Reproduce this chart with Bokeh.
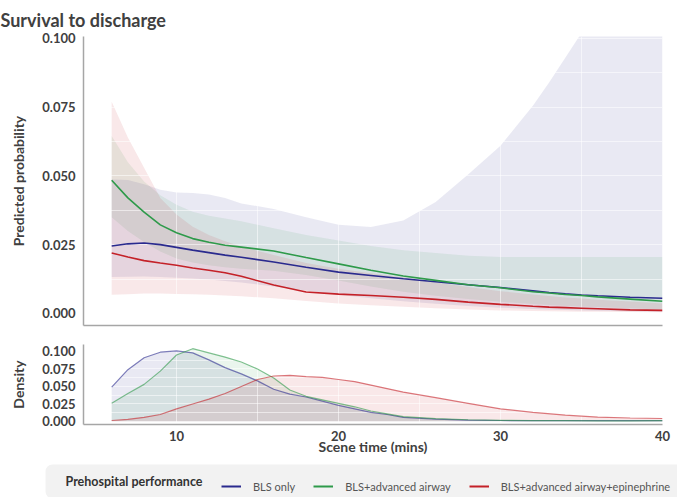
from bokeh.plotting import figure
from bokeh.layouts import column, row
from bokeh.models import (Legend, LegendItem, FixedTicker, Range1d,
                          PrintfTickFormatter, BoxAnnotation, Label)
from bokeh.embed import file_html
from bokeh.resources import INLINE

# ---------------- data ----------------
scene_time = [6, 7, 8, 9, 10, 11, 12, 13, 14, 16, 18, 20, 22, 24, 26, 28,
              30, 32, 33, 34, 35, 36, 38, 40]

bls_pred = [0.0245, 0.0253, 0.0256, 0.0250, 0.0240, 0.0230, 0.0221, 0.0212,
            0.0204, 0.0187, 0.0168, 0.0150, 0.0138, 0.0126, 0.0115, 0.0104,
            0.0094, 0.0082, 0.0076, 0.0071, 0.0067, 0.0064, 0.0059, 0.0055]
bls_lo = [0.0132, 0.0133, 0.0134, 0.0132, 0.0130, 0.0127, 0.0123, 0.0118,
          0.0112, 0.0098, 0.0083, 0.0068, 0.0055, 0.0044, 0.0035, 0.0027,
          0.0021, 0.0016, 0.0014, 0.0012, 0.0011, 0.0010, 0.0008, 0.0006]
bls_hi = [0.0487, 0.0485, 0.0470, 0.0450, 0.0440, 0.0438, 0.0432, 0.0420,
          0.0400, 0.0380, 0.0350, 0.0322, 0.0314, 0.0338, 0.0405, 0.0505,
          0.0610, 0.0755, 0.0840, 0.0930, 0.1020, 0.1100, 0.1300, 0.1500]

air_pred = [0.0484, 0.0420, 0.0368, 0.0322, 0.0293, 0.0272, 0.0259, 0.0248,
            0.0241, 0.0227, 0.0203, 0.0180, 0.0157, 0.0136, 0.0120, 0.0104,
            0.0093, 0.0079, 0.0074, 0.0069, 0.0065, 0.0060, 0.0052, 0.0044]
air_lo = [0.0350, 0.0300, 0.0260, 0.0225, 0.0200, 0.0185, 0.0175, 0.0168,
          0.0162, 0.0155, 0.0140, 0.0120, 0.0098, 0.0079, 0.0064, 0.0052,
          0.0042, 0.0034, 0.0031, 0.0028, 0.0025, 0.0023, 0.0019, 0.0015]
air_hi = [0.0645, 0.0550, 0.0480, 0.0430, 0.0395, 0.0370, 0.0355, 0.0345,
          0.0335, 0.0310, 0.0285, 0.0265, 0.0245, 0.0230, 0.0220, 0.0210,
          0.0205, 0.0205, 0.0205, 0.0205, 0.0205, 0.0205, 0.0205, 0.0205]

epi_pred = [0.0220, 0.0205, 0.0192, 0.0183, 0.0175, 0.0165, 0.0157, 0.0148,
            0.0135, 0.0103, 0.0078, 0.0070, 0.0065, 0.0059, 0.0051, 0.0041,
            0.0033, 0.0026, 0.0023, 0.0021, 0.0019, 0.0017, 0.0013, 0.0011]
epi_lo = [0.0068, 0.0070, 0.0072, 0.0072, 0.0071, 0.0070, 0.0068, 0.0065,
          0.0062, 0.0055, 0.0045, 0.0036, 0.0030, 0.0024, 0.0019, 0.0014,
          0.0011, 0.0009, 0.0008, 0.0007, 0.0006, 0.0006, 0.0005, 0.0004]
epi_hi = [0.0770, 0.0640, 0.0530, 0.0420, 0.0360, 0.0315, 0.0285, 0.0262,
          0.0243, 0.0212, 0.0183, 0.0162, 0.0146, 0.0131, 0.0112, 0.0096,
          0.0081, 0.0069, 0.0063, 0.0058, 0.0054, 0.0050, 0.0043, 0.0036]

dens_time = [6, 7, 8, 9, 10, 11, 12, 13, 14, 15, 16, 17, 18, 19, 20, 21, 22,
             23, 24, 26, 28, 30, 32, 34, 36, 38, 40]
bls_dens = [0.049, 0.074, 0.091, 0.099, 0.101, 0.098, 0.088, 0.077, 0.068,
            0.058, 0.046, 0.039, 0.035, 0.029, 0.023, 0.018, 0.013, 0.010,
            0.006, 0.0035, 0.002, 0.0014, 0.0012, 0.0012, 0.0012, 0.0012, 0.0013]
air_dens = [0.026, 0.040, 0.053, 0.072, 0.095, 0.104, 0.098, 0.092, 0.085,
            0.075, 0.062, 0.045, 0.036, 0.031, 0.026, 0.021, 0.015, 0.011,
            0.007, 0.004, 0.0025, 0.0016, 0.0012, 0.0011, 0.0010, 0.0010, 0.0012]
epi_dens = [0.0014, 0.003, 0.006, 0.010, 0.018, 0.025, 0.032, 0.040, 0.050,
            0.060, 0.065, 0.066, 0.064, 0.063, 0.060, 0.057, 0.052, 0.047,
            0.042, 0.034, 0.026, 0.018, 0.013, 0.009, 0.0062, 0.005, 0.0043]

groups = ["BLS only", "BLS+advanced airway", "BLS+advanced airway+epinephrine"]
legend_title = "Prehospital performance"
prob_ticks = [0.0, 0.025, 0.05, 0.075, 0.1]
time_ticks = [10, 20, 30, 40]

# ---------------- style ----------------
FONT = "Lato"
TXT = "#404040"
AXC = "#a6a6a6"
colors = ["#2a2a8e", "#2e9a4a", "#c42128"]

W = 677
LB = 83
RB = W - 662
X_RANGE = (4.26, 40.0)


def style_axes(p):
    for ax in (p.xaxis[0], p.yaxis[0]):
        ax.axis_line_color = AXC
        ax.axis_line_width = 1.5
        ax.major_tick_line_color = None
        ax.minor_tick_line_color = None
        ax.major_tick_out = 0
        ax.major_tick_in = 0
        ax.minor_tick_out = 0
        ax.minor_tick_in = 0
        ax.major_label_text_font = FONT
        ax.major_label_text_font_style = "bold"
        ax.major_label_text_font_size = "13px"
        ax.major_label_text_color = TXT
        ax.axis_label_text_font = FONT
        ax.axis_label_text_font_style = "bold"
        ax.axis_label_text_font_size = "14px"
        ax.axis_label_text_color = TXT
    p.yaxis[0].major_label_standoff = 8
    p.yaxis[0].axis_label_standoff = 12
    for g in (p.xgrid[0], p.ygrid[0]):
        g.grid_line_color = "white"
        g.grid_line_alpha = 0.55
        g.minor_grid_line_color = "white"
        g.minor_grid_line_alpha = 0.55
    p.outline_line_color = None
    p.background_fill_color = "white"
    p.border_fill_color = "white"


# ---------------- top panel ----------------
p1 = figure(width=W, height=333, output_backend="svg", toolbar_location=None,
            x_range=Range1d(*X_RANGE), y_range=Range1d(-0.0044, 0.1007),
            min_border_left=LB, min_border_right=RB, min_border_top=0,
            min_border_bottom=8)
p1.title.text = "Survival to discharge"
p1.title.text_font = FONT
p1.title.text_font_size = "18px"
p1.title.text_font_style = "bold"
p1.title.text_color = TXT
p1.title.align = "left"
p1.title.offset = -LB
p1.title.standoff = 12

bands = [(bls_lo, bls_hi), (air_lo, air_hi), (epi_lo, epi_hi)]
preds = [bls_pred, air_pred, epi_pred]
for (lo, hi), c in zip(bands, colors):
    p1.varea(x=scene_time, y1=lo, y2=hi, fill_color=c, fill_alpha=0.1,
             level="image")
for pr, c in zip(preds, colors):
    p1.line(x=scene_time, y=pr, line_color=c, line_width=1.6)

style_axes(p1)
p1.yaxis[0].axis_label = "Predicted probability"
p1.yaxis[0].ticker = FixedTicker(ticks=prob_ticks)
p1.yaxis[0].formatter = PrintfTickFormatter(format="%.3f")
p1.xaxis[0].ticker = FixedTicker(ticks=[])
p1.ygrid[0].ticker = FixedTicker(ticks=prob_ticks,
                                 minor_ticks=[0.0125, 0.0375, 0.0625, 0.0875])
p1.xgrid[0].ticker = FixedTicker(ticks=time_ticks, minor_ticks=[5, 15, 25, 35])

# ---------------- density panel ----------------
p2 = figure(width=W, height=128, output_backend="svg", toolbar_location=None,
            x_range=p1.x_range, y_range=Range1d(-0.0043, 0.110),
            min_border_left=LB, min_border_right=RB, min_border_top=11,
            min_border_bottom=37)
for d, c in zip([bls_dens, air_dens, epi_dens], colors):
    p2.varea(x=dens_time, y1=[0] * len(d), y2=d, fill_color=c, fill_alpha=0.1,
             level="image")
    p2.line(x=dens_time, y=d, line_color=c, line_width=1.2, line_alpha=0.6)

style_axes(p2)
p2.yaxis[0].axis_label = "Density"
p2.yaxis[0].ticker = FixedTicker(ticks=prob_ticks)
p2.yaxis[0].formatter = PrintfTickFormatter(format="%.3f")
p2.xaxis[0].ticker = FixedTicker(ticks=time_ticks)
p2.xaxis[0].axis_label = "Scene time (mins)"
p2.xaxis[0].major_label_standoff = 6
p2.xaxis[0].axis_label_standoff = -6
p2.ygrid[0].ticker = FixedTicker(ticks=prob_ticks,
                                 minor_ticks=[0.0125, 0.0375, 0.0625, 0.0875])
p2.xgrid[0].ticker = FixedTicker(ticks=time_ticks, minor_ticks=[5, 15, 25, 35])

# ---------------- legend strip ----------------
# x data units of this strip equal canvas pixels (frame spans the whole strip)
H3 = 36
p3 = figure(width=W, height=H3, output_backend="svg", toolbar_location=None,
            x_range=Range1d(0, W), y_range=Range1d(0, H3),
            x_axis_location=None, y_axis_location=None,
            min_border_left=0, min_border_right=0, min_border_top=0,
            min_border_bottom=0)
p3.extra_y_ranges = {"hidden": Range1d(1, 2)}
p3.grid.visible = False
p3.outline_line_color = None
p3.background_fill_color = "white"
p3.border_fill_color = "white"

box = BoxAnnotation(left=45, right=W + 10, bottom=-1, top=33,
                    fill_color="#f2f2f2", fill_alpha=1.0, line_color=None,
                    level="underlay")
try:
    box.border_radius = 7
except Exception:
    pass
p3.add_layout(box)
p3.add_layout(Label(x=65, y=16, text=legend_title, text_font=FONT,
                    text_font_style="bold", text_font_size="12.5px",
                    text_color="#333333", text_baseline="middle"))

# legend proxies: the prediction series on an off-screen range
items = []
for g, pr, c in zip(groups, preds, colors):
    r = p3.line(x=scene_time, y=pr, line_color=c, line_width=2,
                y_range_name="hidden")
    items.append(LegendItem(label=g, renderers=[r]))

legend = Legend(items=items, orientation="horizontal", location=(221, 3),
                label_text_font=FONT, label_text_font_size="11px",
                label_text_color="#555555",
                background_fill_alpha=0.0, border_line_color=None,
                padding=5, spacing=18, glyph_width=20, glyph_height=16,
                label_height=16, label_standoff=12, margin=0)
p3.add_layout(legend)

layout = column(p1, p2, row(p3))
open("out.html", "w").write(file_html(layout, INLINE))
